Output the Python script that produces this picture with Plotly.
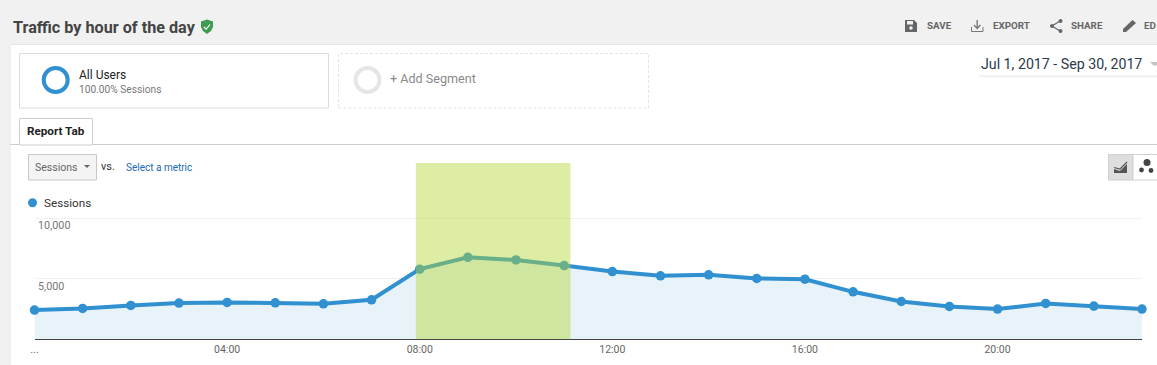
import plotly.graph_objects as go

W, H = 1157, 365
FONT = "Roboto"

hours = list(range(24))
sessions = [2390, 2530, 2770, 2970, 3020, 2990, 2910, 3240, 5770, 6750, 6530, 6070,
            5570, 5220, 5300, 5000, 4940, 3900, 3100, 2690, 2470, 2940, 2720, 2470]
x_tick_vals = [0, 4, 8, 12, 16, 20]
x_tick_text = ["...", "04:00", "08:00", "12:00", "16:00", "20:00"]
y_tick_vals = [5000, 10000]
y_tick_text = ["5,000", "10,000"]
highlight_x = [7.92, 11.13]
y_axis_top = 14545

BLUE = "#3090d0"
PLOT_L, PLOT_R, PLOT_T, PLOT_B = 34.5, 1142, 163, 339


def px(x, y):
    return x / W, 1 - y / H


def pth(points, close=True):
    out = []
    for i, (x, y) in enumerate(points):
        a, b = px(x, y)
        out.append(f"{'M' if i == 0 else 'L'}{a:.5f},{b:.5f}")
    return " ".join(out) + (" Z" if close else "")


shapes = []


def rect(x0, y0, x1, y1, fill="rgba(0,0,0,0)", line=None, lw=1, dash="solid", layer="below"):
    a, b = px(x0, y0)
    c, d = px(x1, y1)
    shapes.append(dict(type="rect", xref="paper", yref="paper", x0=a, y0=d, x1=c, y1=b,
                       fillcolor=fill, layer=layer,
                       line=dict(color=line or "rgba(0,0,0,0)", width=lw if line else 0, dash=dash)))


def circle(cx, cy, r, fill="rgba(0,0,0,0)", line=None, lw=0):
    a, b = px(cx - r, cy + r)
    c, d = px(cx + r, cy - r)
    shapes.append(dict(type="circle", xref="paper", yref="paper", x0=a, y0=b, x1=c, y1=d,
                       fillcolor=fill, layer="below",
                       line=dict(color=line or "rgba(0,0,0,0)", width=lw)))


def poly(points, fill="rgba(0,0,0,0)", line=None, lw=0, close=True):
    shapes.append(dict(type="path", xref="paper", yref="paper", path=pth(points, close),
                       fillcolor=fill if close else "rgba(0,0,0,0)", layer="below",
                       line=dict(color=line or "rgba(0,0,0,0)", width=lw)))


annotations = []


def text(x, y, s, size=12, color="#333", anchor="left", bold=False, family=FONT):
    a, b = px(x, y)
    annotations.append(dict(xref="paper", yref="paper", x=a, y=b, text=f"<b>{s}</b>" if bold else s,
                            showarrow=False, xanchor=anchor, yanchor="middle",
                            font=dict(family=family, size=size, color=color),
                            borderpad=0, borderwidth=0))


# page chrome
rect(0, 0, 1157, 44, fill="#f1f1f1")
rect(0, 44, 10, 365, fill="#f1f1f1")
rect(10, 44, 1157, 45, fill="#e6e6e6")
rect(9.5, 44, 10.5, 365, fill="#e8e8e8")

# header
text(13, 27, "Traffic by hour of the day", size=16.2, color="#444", bold=True)
poly([(201, 21.5), (207, 19.5), (213, 21.5), (213, 27), (211, 31), (207, 34), (203, 31), (201, 27)], fill="#3f9a52")
poly([(204, 27), (206.3, 29.2), (210, 24.5)], line="white", lw=1.2, close=False)

# save
poly([(905, 20), (914, 20), (917, 23), (917, 32), (905, 32)], fill="#666")
rect(907, 21, 913, 24.5, fill="#f1f1f1")
circle(911, 28, 1.8, fill="#f1f1f1")
text(927, 25.5, "SAVE", size=9.8, color="#666", bold=True)
# export
poly([(971.5, 27), (971.5, 31.5), (983, 31.5), (983, 27)], line="#777", lw=1, close=False)
poly([(977.2, 20), (977.2, 28)], line="#777", lw=1.4, close=False)
poly([(974, 25), (977.2, 28.5), (980.4, 25)], line="#777", lw=1.4, close=False)
text(993, 25.5, "EXPORT", size=9.8, color="#666", bold=True)
# share
poly([(1060, 21), (1052, 26), (1060, 31)], line="#666", lw=1.2, close=False)
circle(1060.5, 21, 2, fill="#666")
circle(1052, 26, 2, fill="#666")
circle(1060.5, 31, 2, fill="#666")
text(1071, 25.5, "SHARE", size=9.8, color="#666", bold=True)
# pencil
poly([(1123, 29), (1132.5, 20), (1136, 23), (1126, 32), (1123, 32)], fill="#666")
text(1144, 25.5, "ED", size=9.8, color="#666", bold=True)

# segments
rect(19.5, 53.5, 328.5, 108, fill="white", line="#dcdcdc")
circle(55.7, 80, 12, line="#3090d0", lw=4)
text(79.2, 75, "All Users", size=12, color="#222")
text(79.2, 89.5, "100.00% Sessions", size=10.2, color="#777")
rect(338.5, 53.5, 648.5, 108, fill="white", line="#e4e4e4", dash="3px,2px")
circle(367.5, 80, 12, line="#e6e6e6", lw=4)
text(390, 78.5, "+ Add Segment", size=12.6, color="#8a8a8a")

# date picker
text(981, 64, "Jul 1, 2017 - Sep 30, 2017", size=14.2, color="#2b3a4a")
rect(979, 75.5, 1157, 77, fill="#eeeeee")
poly([(1150, 62), (1157, 62), (1157, 65.5), (1153.5, 65.5)], fill="#c4c4c4")

# report tab
rect(10, 144, 1157, 145, fill="#cccccc")
rect(19.5, 118.5, 92.5, 145, fill="white", line="#cccccc")
text(56, 131, "Report Tab", size=11.7, color="#222", anchor="center", bold=True)

# metric selector
rect(28.5, 154.5, 96.5, 180, fill="#f4f4f4", line="#c8c8c8")
text(35, 167.5, "Sessions", size=10.5, color="#666")
poly([(84, 165), (90, 165), (87, 168)], fill="#666")
text(101, 166.5, "vs.", size=11, color="#333")
text(126, 167.5, "Select a metric", size=10, color="#1a6bb5")

# view toggle
rect(1108.5, 154.5, 1133, 180, fill="#dedede", line="#d0d0d0")
rect(1133, 154.5, 1158, 180, fill="white", line="#d0d0d0")
poly([(1114, 173), (1114, 169), (1120, 171), (1127, 164), (1127, 173)], fill="#555")
poly([(1114, 167.5), (1120, 169), (1127, 162)], line="#555", lw=1.2, close=False)
circle(1147, 162.5, 3.5, fill="#444")
circle(1141.5, 170, 2.4, fill="#444")
circle(1151, 170.5, 2.4, fill="#444")

# legend marker
circle(32.5, 202.7, 4.5, fill=BLUE)
text(44.2, 203, "Sessions", size=11.7, color="#333")

# highlight band, over the line
shapes.append(dict(type="rect", xref="x", yref="y", x0=highlight_x[0], x1=highlight_x[1],
                   y0=0, y1=y_axis_top, fillcolor="rgba(178,213,46,0.44)",
                   line=dict(width=0), layer="above"))

# y tick labels sit under their gridlines
for v, t in zip(y_tick_vals, y_tick_text):
    annotations.append(dict(xref="x", yref="y", x=0, y=v, text=t, showarrow=False,
                            xanchor="left", yanchor="top", xshift=1.5, yshift=1,
                            font=dict(family=FONT, size=10.8, color="#777")))

fig = go.Figure(go.Scatter(
    x=hours, y=sessions, mode="lines+markers", fill="tozeroy",
    fillcolor="#e7f2f9", line=dict(color=BLUE, width=4),
    marker=dict(color=BLUE, size=9.5), cliponaxis=False, showlegend=False,
    hoverinfo="x+y",
))

fig.update_layout(
    width=W, height=H, margin=dict(l=0, r=0, t=0, b=0, pad=0, autoexpand=False),
    paper_bgcolor="white", plot_bgcolor="rgba(0,0,0,0)",
    showlegend=False, shapes=shapes, annotations=annotations,
    font=dict(family=FONT),
    xaxis=dict(domain=[PLOT_L / W, PLOT_R / W], range=[0, 23], tickmode="array",
               tickvals=x_tick_vals, ticktext=x_tick_text, showgrid=False, zeroline=False,
               showline=True, linecolor="#444", linewidth=1, ticks="",
               tickfont=dict(family=FONT, size=10.5, color="#666")),
    yaxis=dict(domain=[1 - PLOT_B / H, 1 - PLOT_T / H], range=[0, y_axis_top], tickmode="array",
               tickvals=y_tick_vals, showticklabels=False, showgrid=True,
               gridcolor="#f0f0f0", gridwidth=1, zeroline=False, showline=False, ticks=""),
)

fig.write_html("out.html", config=dict(displayModeBar=False),
               post_script="document.body.style.margin='0';document.body.style.overflow='hidden';")
